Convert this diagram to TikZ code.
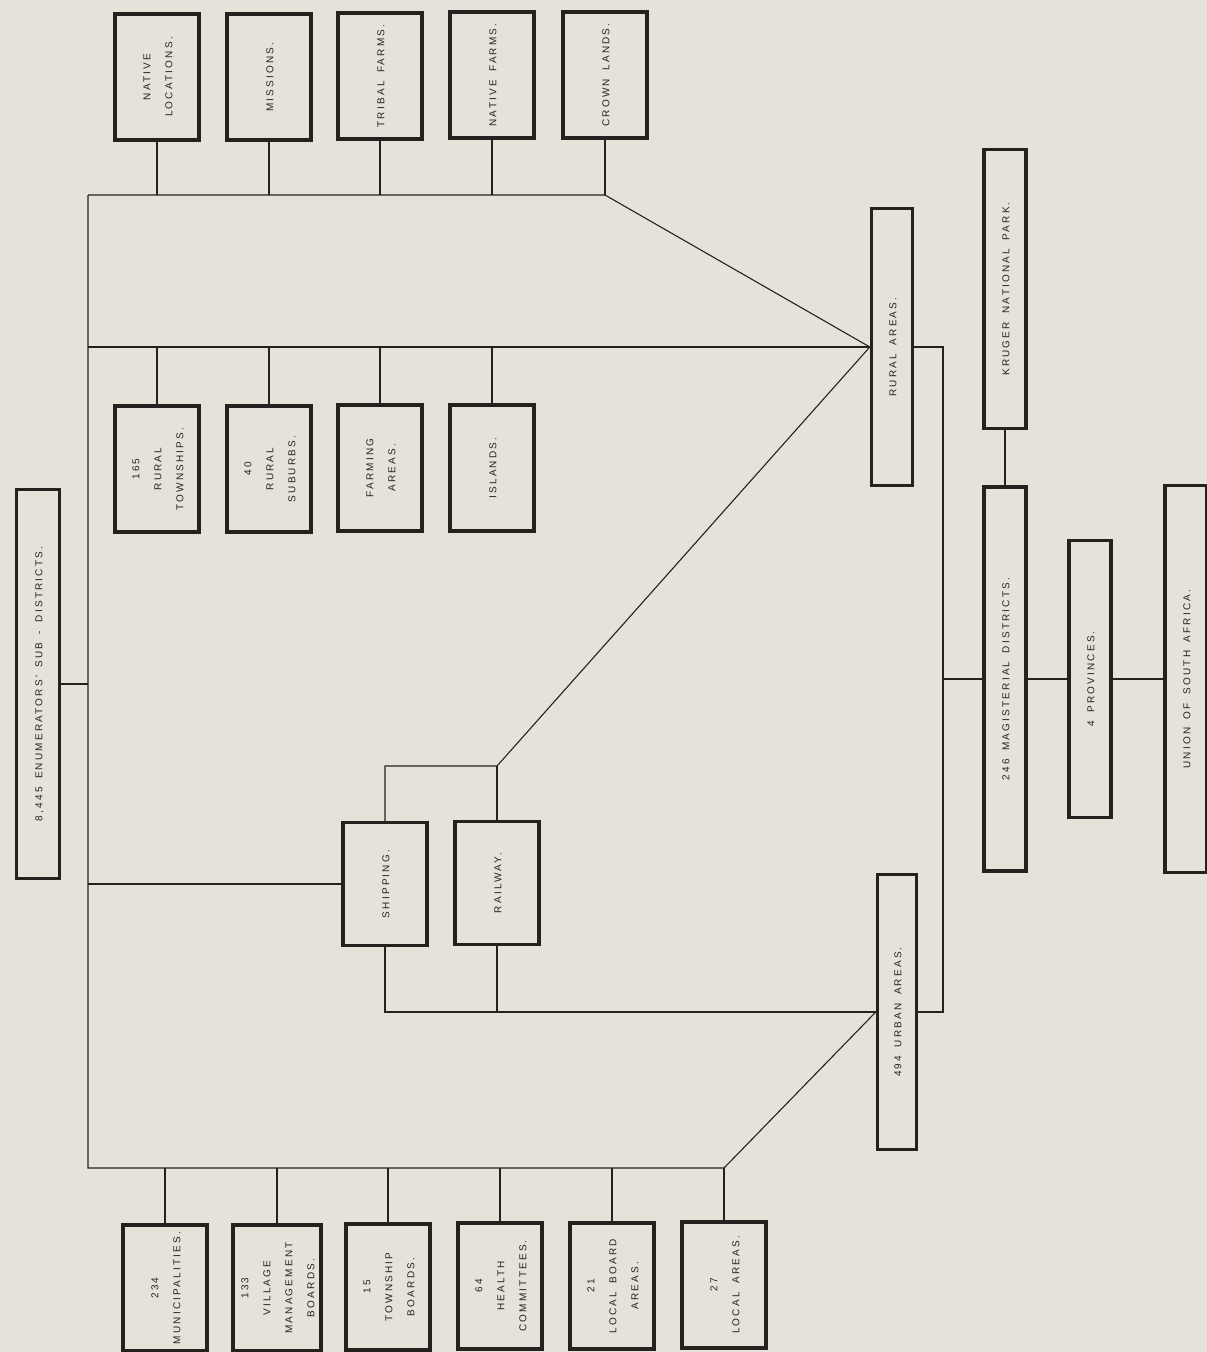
\documentclass[tikz,border=0pt]{standalone}
\usepackage{fontspec}
\usepackage{graphicx}
\newfontfamily\chartfont[LetterSpace=22, WordSpace=1.7]{Liberation Sans}
\definecolor{paper}{RGB}{229,227,217}
\definecolor{ink}{RGB}{38,33,30}
\newcommand{\vtext}[1]{\rotatebox{90}{\begin{tabular}{@{}c@{}}#1\end{tabular}}}
\tikzset{
        areabox/.style={draw=ink, line width=3.4pt, fill=paper, text=ink, inner sep=0pt,
          minimum width=84pt, minimum height=126pt, font=\chartfont\fontsize{10}{22}\selectfont},
        longbox/.style={areabox, minimum width=41pt},
        wire/.style={draw=ink, line width=1.1pt}
          }
\begin{document}
\begin{tikzpicture}[x=1pt, y=-1pt]
        \fill[paper] (0,0) rectangle (1207,1352);
        \useasboundingbox (0,0) rectangle (1207,1352);
        \node[areabox] (nl) at (157,77) {\vtext{NATIVE\\LOCATIONS.}};
        \node[areabox] (mis) at (269,77) {\vtext{MISSIONS.}};
        \node[areabox] (trf) at (380,76) {\vtext{TRIBAL FARMS.}};
        \node[areabox] (naf) at (492,75) {\vtext{NATIVE FARMS.}};
        \node[areabox] (crl) at (605,75) {\vtext{CROWN LANDS.}};
        \node[areabox] (rt) at (157,469) {\vtext{165\\RURAL\\TOWNSHIPS.}};
        \node[areabox] (rs) at (269,469) {\vtext{40\\RURAL\\SUBURBS.}};
        \node[areabox] (fa) at (380,468) {\vtext{FARMING\\AREAS.}};
        \node[areabox] (isl) at (492,468) {\vtext{ISLANDS.}};
        \node[longbox, minimum width=43pt, minimum height=389pt] (enum) at (38,684) {\vtext{8,445 ENUMERATORS' SUB - DISTRICTS.}};
        \node[areabox, minimum height=123pt] (ship) at (385,884) {\vtext{SHIPPING.}};
        \node[areabox, minimum height=123pt] (rail) at (497,883) {\vtext{RAILWAY.}};
        \node[longbox, minimum height=277pt] (rural) at (892,347) {\vtext{RURAL AREAS.}};
        \node[longbox, minimum width=39pt, minimum height=275pt] (urban) at (897,1012) {\vtext{494 URBAN AREAS.}};
        \node[longbox, minimum width=42pt, minimum height=279pt] (kruger) at (1005,289) {\vtext{KRUGER NATIONAL PARK.}};
        \node[longbox, minimum width=42pt, minimum height=384pt] (mag) at (1005,679) {\vtext{246 MAGISTERIAL DISTRICTS.}};
        \node[longbox, minimum width=42pt, minimum height=277pt] (prov) at (1090,679) {\vtext{4 PROVINCES.}};
        \node[longbox, minimum width=42pt, minimum height=387pt] (union) at (1186,679) {\vtext{UNION OF SOUTH AFRICA.}};
        \node[areabox] (mun) at (165,1288) {\vtext{234\\MUNICIPALITIES.}};
        \node[areabox] (vmb) at (277,1288) {\vtext{133\\VILLAGE\\MANAGEMENT\\BOARDS.}};
        \node[areabox] (tsb) at (388,1287) {\vtext{15\\TOWNSHIP\\BOARDS.}};
        \node[areabox] (hc) at (500,1286) {\vtext{64\\HEALTH\\COMMITTEES.}};
        \node[areabox] (lba) at (612,1286) {\vtext{21\\LOCAL BOARD\\AREAS.}};
        \node[areabox] (la) at (724,1285) {\vtext{27\\LOCAL AREAS.}};
        \coordinate (top) at (88,195);
        \coordinate (mid) at (88,347);
        \coordinate (low) at (88,1168);
        \coordinate (fork) at (497,766);
        \coordinate (join) at (943,679);
        \draw[wire] (nl.south) -- (nl.south |- top);
        \draw[wire] (mis.south) -- (mis.south |- top);
        \draw[wire] (trf.south) -- (trf.south |- top);
        \draw[wire] (naf.south) -- (naf.south |- top);
        \draw[wire] (top) -- (crl.south |- top) -- (rural.west);
        \draw[wire] (crl.south) -- (crl.south |- top);
        \draw[wire] (mid) -- (rural.west);
        \draw[wire] (rt.north) -- (rt.north |- mid);
        \draw[wire] (rs.north) -- (rs.north |- mid);
        \draw[wire] (fa.north) -- (fa.north |- mid);
        \draw[wire] (isl.north) -- (isl.north |- mid);
        \draw[wire] (top) -- (low) -- (la.north |- low) -- (urban.west);
        \draw[wire] (enum.east) -- (enum.east -| top);
        \draw[wire] (ship.west -| top) -- (ship.west);
        \draw[wire] (ship.north) |- (fork) -- (rural.west);
        \draw[wire] (rail.north) -- (fork);
        \draw[wire] (ship.south) |- (urban.west);
        \draw[wire] (rail.south) -- (rail.south |- urban.west);
        \draw[wire] (mun.north) -- (mun.north |- low);
        \draw[wire] (vmb.north) -- (vmb.north |- low);
        \draw[wire] (tsb.north) -- (tsb.north |- low);
        \draw[wire] (hc.north) -- (hc.north |- low);
        \draw[wire] (lba.north) -- (lba.north |- low);
        \draw[wire] (la.north) -- (la.north |- low);
        \draw[wire] (rural.east) -| (join) |- (urban.east);
        \draw[wire] (join) -- (mag.west);
        \draw[wire] (kruger.south) -- (mag.north);
        \draw[wire] (mag.east) -- (prov.west);
        \draw[wire] (prov.east) -- (union.west);
\end{tikzpicture}
\end{document}
